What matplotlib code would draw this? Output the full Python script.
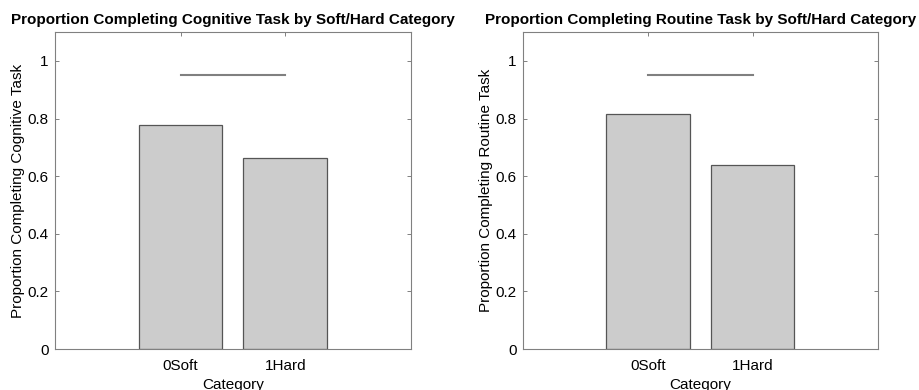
import numpy as np
import matplotlib.pyplot as plt

plt.rcParams['font.family'] = ['Liberation Sans', 'DejaVu Sans']

# Proportions completing each task, by soft/hard category
categories = ['0Soft', '1Hard']
cognitive = [0.776, 0.662]
routine = [0.815, 0.640]
sig_level = 0.95

panels = [
    ('Proportion Completing Cognitive Task by Soft/Hard Category',
     'Proportion Completing Cognitive Task', cognitive),
    ('Proportion Completing Routine Task by Soft/Hard Category',
     'Proportion Completing Routine Task', routine),
]

fig = plt.figure(figsize=(9.19, 3.9), dpi=100)
axes_pos = [[0.0598, 0.105, 0.3874, 0.8128],
            [0.569, 0.105, 0.3863, 0.8128]]

x = np.arange(1, len(categories) + 1)
for pos, (title, ylabel, vals) in zip(axes_pos, panels):
    ax = fig.add_axes(pos)
    ax.bar(x, vals, width=0.8, color='#cccccc', edgecolor='#555555', linewidth=0.9, zorder=2)
    # bracket between the two groups
    ax.plot([x[0], x[-1]], [sig_level, sig_level], color='#808080', linewidth=1.5, zorder=3)
    ax.set_xlim(-0.2, 3.2)
    ax.set_ylim(0, 1.1)
    ax.set_xticks(x)
    ax.set_xticklabels(categories)
    ax.set_yticks([0, 0.2, 0.4, 0.6, 0.8, 1])
    ax.set_yticklabels(['0', '0.2', '0.4', '0.6', '0.8', '1'])
    ax.tick_params(direction='in', length=3, width=0.7, color='#808080',
                   top=True, right=True, labelsize=11)
    ax.tick_params(axis='x', pad=7.5)
    ax.tick_params(axis='y', pad=4.5)
    for s in ax.spines.values():
        s.set_color('#808080')
        s.set_linewidth(0.8)
    ax.set_title(title, fontsize=11, fontweight='bold', pad=6)
    ax.set_ylabel(ylabel, fontsize=11, labelpad=2)
    ax.set_xlabel('Category', fontsize=11, labelpad=3)

fig.savefig('out.png', dpi=100)
